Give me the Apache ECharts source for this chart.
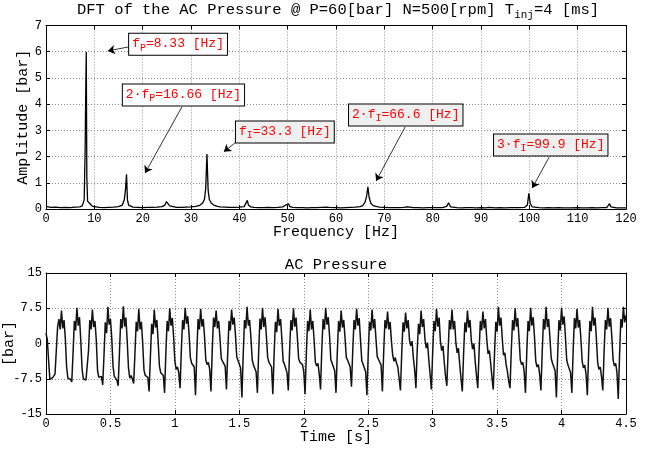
<!DOCTYPE html>
<html><head><meta charset="utf-8">
<script src="https://cdn.jsdelivr.net/npm/echarts@6/dist/echarts.min.js"></script>
<style>html,body{margin:0;padding:0;background:#fff}#c{width:657px;height:451px}</style>
</head><body><div id="c"></div>
<script>
// ---- Spectrum (DFT) data ----
const specFreq = [0,0.4,1,2,3,4,5,6,7,7.5,7.9,8.1,8.2,8.33,8.45,8.6,8.9,9.2,9.6,10,11,12,13,14,15,15.8,16.2,16.45,16.66,16.85,17.1,17.5,18,19,20,21,22,23,24,24.6,24.9,25.0,25.2,25.6,26,27,28,29,30,31,31.8,32.4,32.8,33.05,33.3,33.55,33.8,34.2,34.8,35.5,36,37,38,39,40,41,41.4,41.65,41.9,42.4,43,44,45,46,47,48,49,49.6,49.8,50.0,50.2,50.4,51,52,53,54,55,56,57,58,58.3,58.6,59,60,61,62,63,64,65,65.5,66.0,66.35,66.6,66.85,67.2,67.7,68.5,69,70,71,72,73,74,74.7,75.0,75.3,76,77,78,79,80,81,82,82.9,83.3,83.7,84,85,86,87,88,89,90,91,91.6,92,93,94,95,96,97,98,99,99.6,99.9,100.2,100.6,101,102,103,104,105,106,107,108,108.3,108.6,109,110,111,112,113,114,115,116,116.3,116.6,116.9,117.3,118,119,120];
const specAmp = [0.10,0.08,0.06,0.07,0.05,0.06,0.05,0.07,0.08,0.12,0.35,2.3,4.1,6.0,1.2,0.3,0.35,0.18,0.10,0.08,0.06,0.05,0.06,0.07,0.09,0.15,0.35,0.75,1.32,0.35,0.15,0.09,0.07,0.06,0.05,0.06,0.06,0.07,0.09,0.15,0.28,0.34,0.22,0.12,0.08,0.06,0.06,0.07,0.08,0.10,0.14,0.22,0.38,0.8,2.1,0.7,0.36,0.22,0.14,0.10,0.08,0.07,0.06,0.06,0.07,0.09,0.16,0.33,0.14,0.08,0.06,0.05,0.05,0.06,0.05,0.06,0.08,0.15,0.22,0.12,0.20,0.10,0.06,0.05,0.05,0.04,0.05,0.05,0.06,0.07,0.10,0.06,0.05,0.05,0.04,0.05,0.06,0.07,0.09,0.13,0.25,0.5,0.85,0.45,0.22,0.13,0.09,0.07,0.06,0.05,0.05,0.05,0.06,0.08,0.09,0.07,0.05,0.05,0.04,0.05,0.05,0.05,0.05,0.10,0.24,0.08,0.05,0.05,0.04,0.05,0.05,0.04,0.05,0.04,0.06,0.04,0.04,0.05,0.04,0.05,0.05,0.05,0.06,0.15,0.60,0.20,0.08,0.05,0.05,0.04,0.05,0.04,0.05,0.04,0.04,0.08,0.04,0.04,0.05,0.04,0.04,0.05,0.04,0.05,0.05,0.10,0.20,0.08,0.05,0.04,0.04,0.04];

// ---- AC pressure time signal (sampled every 0.01 s) ----
const timeStep = 0.01;
const pressure = [
 2.2,0.8,-3.5,-7.6,-7.8,-7.3,-7.6,-6.5,-1.5,3.5,5.2,3.0,
 7.0,3.2,5.0,1.0,-5.0,-7.4,-7.0,-7.6,-8.2,-2.0,4.8,2.8,
 7.6,3.8,5.6,0.5,-5.5,-7.5,-7.2,-7.8,-7.6,-1.5,5.0,3.0,
 7.2,3.5,4.8,0.8,-5.8,-7.2,-7.5,-7.0,-8.8,-2.5,4.5,2.2,
 7.8,4.0,5.2,1.2,-4.8,-7.0,-7.4,-7.8,-9.0,-1.8,5.2,3.2,
 7.9,3.6,5.5,0.6,-5.2,-7.4,-6.8,-7.5,-8.5,-2.2,4.6,2.6,
 7.4,3.0,4.6,0.2,-5.6,-6.8,-6.5,-7.2,-10.2,-2.8,4.2,2.0,
 7.2,3.4,5.0,0.5,-4.8,-6.2,-5.8,-6.8,-10.5,-2.0,4.8,2.6,
 7.5,3.8,5.4,1.5,-3.8,-5.5,-5.0,-6.2,-9.5,-1.5,5.0,3.0,
 7.6,4.2,5.8,2.0,-3.0,-4.2,-3.8,-5.0,-11.0,-2.0,5.2,3.0,
 7.4,3.6,5.2,1.5,-3.5,-4.5,-4.0,-5.5,-10.2,-1.2,5.5,3.5,
 7.0,3.2,4.8,1.0,-3.2,-3.8,-3.5,-4.8,-9.8,-2.0,4.8,2.8,
 7.2,4.0,5.5,1.8,-2.8,-3.6,-3.2,-5.2,-11.5,-2.5,5.0,3.2,
 7.8,3.8,5.0,1.2,-3.5,-4.6,-4.2,-6.0,-10.5,-1.8,5.3,3.0,
 7.6,3.5,5.6,1.6,-3.0,-4.0,-3.6,-5.0,-10.8,-2.2,4.6,2.4,
 7.4,3.8,5.2,1.0,-3.8,-4.4,-4.0,-6.2,-10.0,-1.5,5.0,2.8,
 7.5,3.6,5.5,1.4,-3.2,-4.0,-3.6,-4.5,-6.0,-10.8,-2.0,4.8,2.6,
 7.2,3.0,4.8,0.8,-4.0,-4.8,-4.2,-6.5,-9.8,-1.0,5.2,3.0,
 7.6,4.0,5.6,1.6,-3.4,-4.2,-3.8,-5.8,-10.5,-2.0,4.8,2.5,
 7.0,3.4,5.0,1.2,-3.0,-3.5,-3.2,-5.0,-9.2,-1.5,5.0,3.0,
 7.4,3.8,5.4,0.8,-3.6,-4.4,-4.0,-6.0,-11.0,-2.2,4.6,2.8,
 7.2,3.2,5.2,1.0,-2.8,-3.4,-3.0,-4.6,-10.2,-1.8,5.0,3.2,
 6.8,3.0,4.6,0.5,-2.5,-3.8,-3.0,-4.2,-5.0,-7.5,-10.0,-2.0,4.5,2.5,
 6.6,3.2,5.0,0.8,-0.5,0.5,-3.0,-5.5,-9.5,-1.5,4.2,2.0,
 7.0,3.5,5.2,1.0,-1.0,0.2,-3.5,-6.5,-9.8,-2.0,4.8,2.6,
 7.4,3.6,5.5,0.5,-1.5,-0.5,-4.0,-7.0,-9.0,-1.5,5.0,3.0,
 7.2,3.0,4.8,0.2,-2.0,-1.0,-4.5,-7.5,-10.2,-2.2,4.5,2.4,
 7.0,3.4,5.0,0.6,-1.2,0.0,-3.8,-6.8,-9.5,-1.8,4.8,2.8,
 6.8,3.2,5.2,0.8,-2.2,-1.5,-4.2,-7.2,-9.8,-2.0,4.6,2.5,
 7.8,3.8,5.5,1.0,-2.5,-2.0,-4.5,-6.0,-8.0,-9.5,-1.5,5.0,2.8,
 7.5,3.6,5.4,1.2,-3.5,-4.5,-4.0,-6.0,-10.5,-2.0,4.8,2.6,
 7.6,3.8,5.6,1.4,-3.8,-5.0,-4.5,-6.5,-10.0,-1.8,5.2,3.0,
 7.8,3.5,5.2,1.0,-3.2,-4.2,-3.8,-5.8,-11.5,-2.2,5.0,2.8,
 7.6,4.0,5.8,1.5,-3.5,-4.6,-4.2,-6.2,-10.5,-1.5,5.4,3.2,
 7.4,3.4,5.0,1.0,-3.8,-5.2,-4.6,-6.5,-11.0,-2.0,4.8,2.6,
 7.8,3.8,5.5,1.2,-4.0,-5.5,-5.0,-7.0,-10.0,-1.8,5.0,3.0,
 7.6,3.6,5.4,1.4,-3.5,-4.8,-4.2,-6.2,-11.8,-2.5,5.2,3.4,
 7.8,4.5,6.0
];

// ---- Annotations (data coordinates of the top plot) ----
const annotations = [
  {pre:'',   sub:'P', post:'=8.33 [Hz]',  box:[17.2, 6.28], tail:[17.0, 6.18], head:[12.8, 6.03], bg:'#ffffff'},
  {pre:'2·', sub:'P', post:'=16.66 [Hz]', box:[15.9, 4.35], tail:[28.1, 3.89], head:[20.5, 1.37], bg:'#ffffff'},
  {pre:'',   sub:'I', post:'=33.3 [Hz]',  box:[39.3, 2.94], tail:[39.1, 2.52], head:[36.8, 2.18], bg:'#f0f0f0'},
  {pre:'2·', sub:'I', post:'=66.6 [Hz]',  box:[62.7, 3.59], tail:[74.3, 3.13], head:[68.3, 1.07], bg:'#f0f0f0'},
  {pre:'3·', sub:'I', post:'=99.9 [Hz]',  box:[92.7, 2.44], tail:[104.1, 1.98], head:[100.6, 0.80], bg:'#f0f0f0'}
];

const FONT = 'Liberation Mono';
const specData = specFreq.map((f, i) => [f, specAmp[i]]);
const presData = pressure.map((v, i) => [+(i * timeStep).toFixed(2), v]);

function axisCommon(extra) {
  return Object.assign({
    type: 'value',
    nameMoveOverlap: false,
    axisLine: {show: true, onZero: false, lineStyle: {color: '#000', width: 1}},
    axisTick: {show: true, inside: true, length: 4, lineStyle: {color: '#000'}},
    axisLabel: {show: true, color: '#000', fontFamily: FONT, fontSize: 12, margin: 4},
    splitLine: {show: false},
    nameTextStyle: {color: '#000', fontFamily: FONT, fontSize: 15}
  }, extra);
}
const grid = {lineStyle: {color: '#8a8a8a', width: 1, type: [1, 2]}};

const chart = echarts.init(document.getElementById('c'), null, {renderer: 'canvas'});
chart.setOption({
  animation: false,
  backgroundColor: '#fff',
  title: [
    {text: '{a|DFT of the AC Pressure @ P=60[bar] N=500[rpm] T}{s|inj}{a|=4 [ms]}',
     left: 338, top: 2, textAlign: 'center', padding: 0,
     textStyle: {fontWeight: 'normal',
                 rich: {a: {fontFamily: FONT, fontSize: 15.5, color: '#000', fontWeight: 'normal', lineHeight: 16},
                        s: {fontFamily: FONT, fontSize: 11, color: '#000', fontWeight: 'normal', lineHeight: 12, padding: [10, 0, 0, 0]}}}},
    {text: 'AC Pressure', left: 336, top: 257, textAlign: 'center', padding: 0,
     textStyle: {fontFamily: FONT, fontSize: 15.5, color: '#000', fontWeight: 'normal'}}
  ],
  grid: [
    {left: 46, right: 31, top: 25.5, height: 183.5, show: false, containLabel: false, outerBoundsMode: 'none'},
    {left: 46, right: 31, top: 273, height: 141, show: false, containLabel: false, outerBoundsMode: 'none'}
  ],
  xAxis: [
    axisCommon({gridIndex: 0, position: 'bottom', min: 0, max: 120, interval: 10,
      name: 'Frequency [Hz]', nameLocation: 'middle', nameGap: 16, splitLine: Object.assign({show: true}, grid)}),
    axisCommon({gridIndex: 0, position: 'top', min: 0, max: 120, interval: 10, axisLabel: {show: false}}),
    axisCommon({gridIndex: 1, position: 'bottom', min: 0, max: 4.5, interval: 0.5,
      name: 'Time [s]', nameLocation: 'middle', nameGap: 16, splitLine: Object.assign({show: true}, grid)}),
    axisCommon({gridIndex: 1, position: 'top', min: 0, max: 4.5, interval: 0.5, axisLabel: {show: false}})
  ],
  yAxis: [
    axisCommon({gridIndex: 0, position: 'left', min: 0, max: 7, interval: 1,
      name: 'Amplitude [bar]', nameLocation: 'middle', nameGap: 15, splitLine: Object.assign({show: true}, grid)}),
    axisCommon({gridIndex: 0, position: 'right', min: 0, max: 7, interval: 1, axisLabel: {show: false}}),
    axisCommon({gridIndex: 1, position: 'left', min: -15, max: 15, interval: 7.5,
      name: '[bar]', nameLocation: 'middle', nameGap: 29, splitLine: Object.assign({show: true}, grid)}),
    axisCommon({gridIndex: 1, position: 'right', min: -15, max: 15, interval: 7.5, axisLabel: {show: false}})
  ],
  series: [
    {type: 'line', xAxisIndex: 0, yAxisIndex: 0, data: specData, showSymbol: false, symbol: 'none',
     lineStyle: {color: '#000', width: 1.3}, silent: true,
     markLine: {silent: true, symbol: ['none', 'arrow'], symbolSize: 7, animation: false,
       label: {show: false}, lineStyle: {color: '#000', width: 0.8, type: 'solid'},
       emphasis: {disabled: true},
       data: annotations.map(a => [{coord: a.tail}, {coord: a.head}])},
     markPoint: {silent: true, animation: false, symbol: 'circle', symbolSize: 0,
       itemStyle: {color: 'transparent'},
       data: annotations.map(a => ({
         coord: a.box,
         label: {show: true, position: 'right', distance: 0,
           formatter: '{t|' + a.pre + 'f}{s|' + a.sub + '}{t|' + a.post + '}',
           backgroundColor: a.bg, borderColor: '#000', borderWidth: 1, padding: [3, 3, 4, 3],
           rich: {t: {fontFamily: FONT, fontSize: 13, color: '#ff0000', lineHeight: 14},
                  s: {fontFamily: FONT, fontSize: 10, color: '#ff0000', lineHeight: 10, padding: [8, 0, 0, 0]}}}
       }))}
    },
    {type: 'line', xAxisIndex: 2, yAxisIndex: 2, data: presData, showSymbol: false, symbol: 'none',
     lineStyle: {color: '#111', width: 1.5}, silent: true}
  ]
});
</script></body></html>
